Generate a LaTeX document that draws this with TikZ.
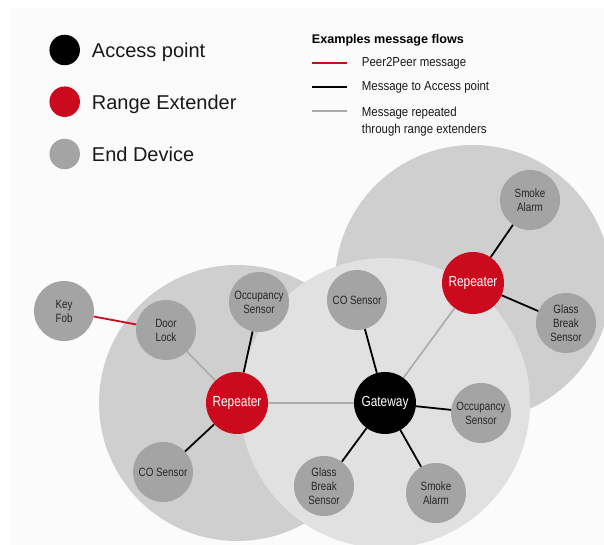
\documentclass[tikz,border=0pt]{standalone}
\usepackage{fontspec}
\setmainfont{Liberation Sans}[FakeStretch=0.82]
\newfontfamily\legendfont{Liberation Sans}
\newfontfamily\flowfont{Liberation Sans}[FakeStretch=0.88]
\usepackage{xcolor}
\usepackage{tikz}
\usetikzlibrary{shapes.geometric, positioning}
\definecolor{extred}{HTML}{CC0A1E}
\definecolor{devgray}{HTML}{A4A4A4}
\definecolor{zonedark}{HTML}{CFCFCF}
\definecolor{zonelight}{HTML}{E1E1E1}
\definecolor{repline}{HTML}{ABABAB}
\tikzstyle{device} = [circle, minimum size=60pt, inner sep=0pt, fill=devgray, text=black!85, align=center, font=\fontsize{12}{14}\selectfont]
\tikzstyle{gateway} = [circle, minimum size=62pt, inner sep=0pt, fill=black, text=white, font=\fontsize{14.5}{16}\selectfont]
\tikzstyle{repeater} = [circle, minimum size=62pt, inner sep=0pt, fill=extred, text=white, font=\fontsize{14.5}{16}\selectfont]
\tikzstyle{legdot} = [circle, minimum size=30.5pt, inner sep=0pt]
\tikzstyle{legtext} = [anchor=base west, text=black!90, font=\legendfont\fontsize{20}{24}\selectfont]
\tikzstyle{flowtext} = [anchor=base west, text=black!90, align=left, font=\flowfont\fontsize{13}{17}\selectfont]
\tikzstyle{p2p} = [line width=1.8pt, extred]
\tikzstyle{toap} = [line width=1.8pt, black]
\tikzstyle{rep} = [line width=1.6pt, repline]

\begin{document}
\begin{tikzpicture}[x=1pt, y=1pt, node distance=90pt]

      % Page
      \fill[white] (0,0) rectangle (604,545);
      \fill[black!1.5] (10,0) rectangle (604,537);
      \useasboundingbox (0,0) rectangle (604,545);

      % Coverage zones
      \fill[zonedark] (237,142) circle (138);
      \fill[zonedark] (473,262) circle (138);
      \fill[zonelight] (385,142) circle (145);

      % Legend
      \node (apdot) [legdot, fill=black] at (64.7,495) {};
      \node (redot) [legdot, fill=extred, below of=apdot, node distance=51.7pt] {};
      \node (eddot) [legdot, fill=devgray, below of=redot, node distance=52.3pt] {};
      \node (aptext) [legtext] at (88.4,487.3) {Access point};
      \node (retext) [legtext] at (88.4,435.7) {Range Extender};
      \node (edtext) [legtext] at (88.4,383.3) {End Device};

      \node (flowtitle) [anchor=base west, inner sep=0pt, font=\legendfont\bfseries\fontsize{12.6}{15}\selectfont] at (311.7,501.7) {Examples message flows};
      \coordinate (p2pa) at (311.7,482.3);
      \coordinate (toapa) at (311.7,458.3);
      \coordinate (repa) at (311.7,434);
      \node (p2ptext) [flowtext] at (358.4,478.3) {Peer2Peer message};
      \node (toaptext) [flowtext] at (358.4,454.3) {Message to Access point};
      \node (reptext) [flowtext] at (358.4,411) {Message repeated\\through range extenders};

      % Nodes
      \node (gw) [gateway] at (385,142) {Gateway};
      \node (repL) [repeater, left of=gw, xshift=-58] {Repeater};
      \node (repR) [repeater, above of=gw, xshift=88, yshift=30] {Repeater};

      \node (coM) [device, above of=gw, xshift=-28, yshift=13] {CO Sensor};
      \node (occR) [device, right of=gw, xshift=6, yshift=-10] {Occupancy\\Sensor};
      \node (smokeB) [device, below of=gw, xshift=51] {Smoke\\Alarm};
      \node (glassB) [device, below of=gw, xshift=-61, yshift=7] {Glass\\Break\\Sensor};

      \node (smokeR) [device, above of=repR, xshift=57, yshift=-7] {Smoke\\Alarm};
      \node (glassR) [device, right of=repR, xshift=3, yshift=-40] {Glass\\Break\\Sensor};

      \node (occL) [device, above of=repL, xshift=22, yshift=11] {Occupancy\\Sensor};
      \node (door) [device, left of=repL, xshift=19, yshift=73] {Door\\Lock};
      \node (coL) [device, below of=repL, xshift=-74, yshift=21] {CO Sensor};
      \node (keyfob) [device, left of=door, xshift=-12, yshift=19] {Key\\Fob};

      % Arrows
      \draw [p2p] (p2pa) -- ++(35,0);
      \draw [toap] (toapa) -- ++(35,0);
      \draw [rep] (repa) -- ++(35,0);

      \draw [p2p] (keyfob) -- (door);
      \draw [rep] (door) -- (repL);
      \draw [toap] (occL) -- (repL);
      \draw [toap] (coL) -- (repL);
      \draw [rep] (repL) -- (gw);
      \draw [toap] (coM) -- (gw);
      \draw [rep] (gw) -- (repR);
      \draw [toap] (repR) -- (smokeR);
      \draw [toap] (repR) -- (glassR);
      \draw [toap] (gw) -- (occR);
      \draw [toap] (gw) -- (smokeB);
      \draw [toap] (gw) -- (glassB);

    \end{tikzpicture}
\end{document}
